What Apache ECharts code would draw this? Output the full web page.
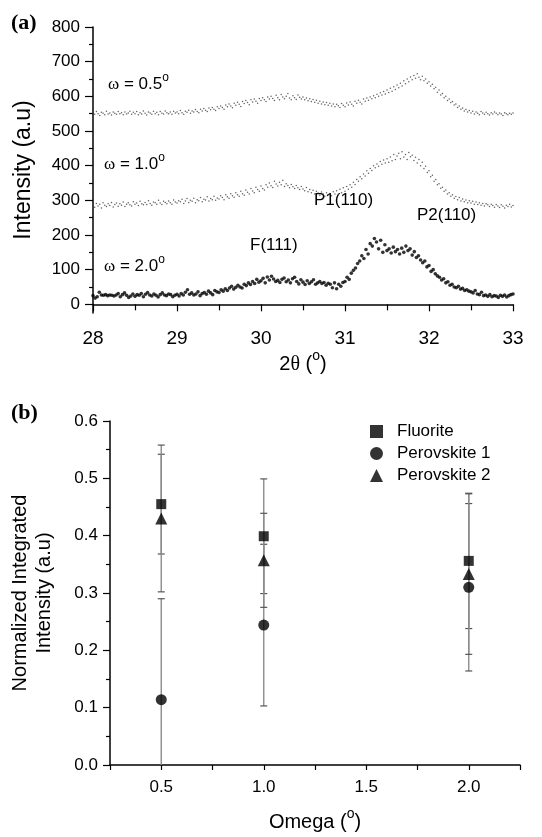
<!DOCTYPE html>
<html><head><meta charset="utf-8">
<script src="https://cdn.jsdelivr.net/npm/echarts@6/dist/echarts.min.js"></script>
<style>html,body{margin:0;padding:0;background:#fff}#c{width:542px;height:837px}</style>
</head><body><div id="c"></div>
<script>
// ---------- Panel (a) data: 2theta sampling and intensities ----------
const twoThetaStart = 28;
const stepW05 = 0.02;
const stepW10 = 0.02;
const stepW20 = 0.025;

const intensityW05 = [
553,548,556,550,545,554,551,547,557,549,552,546,555,551,548,556,550,553,547,555,549,552,557,548,554,
550,556,547,553,549,558,551,546,555,552,548,557,550,554,547,556,551,549,558,553,550,555,548,557,552,
555,550,559,553,548,557,554,560,551,558,555,562,556,553,563,558,565,560,556,566,561,568,563,559,570,
565,572,568,563,575,570,578,572,567,580,574,583,577,571,585,579,588,582,576,590,584,592,586,580,594,
588,596,590,585,598,592,600,594,588,603,596,590,605,598,593,600,608,595,590,602,596,591,604,597,592,
598,590,595,587,593,585,591,583,589,580,586,578,584,576,582,574,580,572,578,570,577,573,568,579,574,
570,581,575,584,577,572,586,580,589,583,578,592,586,595,589,598,593,602,596,606,600,610,604,614,607,
618,611,623,615,628,620,633,625,638,630,645,636,650,642,656,648,660,652,665,655,648,658,645,650,638,
642,630,635,622,626,612,618,604,608,596,600,588,592,582,585,575,578,568,572,563,566,558,562,555,559,
552,557,549,555,551,547,556,552,548,554,550,546,553,549,555,551,547,552,549,545,553,550,547,551,548,552
];

const intensityW10 = [
287,280,291,284,289,278,293,286,282,290,285,294,281,288,292,283,290,286,295,282,289,293,287,284,296,
289,292,285,297,290,287,294,288,299,291,286,295,293,289,300,292,288,297,294,290,298,293,289,301,295,
292,299,296,303,291,298,305,294,300,297,306,293,302,299,308,296,303,301,310,298,305,302,312,300,307,
304,313,308,302,316,310,306,319,313,309,322,316,312,326,319,315,330,323,318,334,327,322,338,331,326,
341,334,330,345,338,350,342,337,355,347,341,352,345,358,340,348,343,336,346,339,334,343,336,331,340,
333,328,337,325,331,322,329,318,326,321,315,324,318,312,322,316,320,313,325,318,328,316,332,322,336,
326,340,332,345,338,352,346,360,355,368,362,376,370,385,378,392,386,400,394,405,398,412,404,416,408,
420,410,425,414,432,418,428,436,420,440,425,432,418,438,426,430,415,424,408,418,400,410,392,398,380,
385,368,372,355,360,345,348,335,338,326,330,318,322,312,316,306,311,302,308,298,304,296,301,293,299,
292,297,289,295,288,293,286,291,284,290,287,282,289,285,280,288,284,279,287,283,278,286,282,289,281,285
];

const intensityW20 = [
25,18,22,35,27,26,28,25,27,26,24,27,31,22,28,33,26,20,24,30,23,28,26,31,22,29,34,27,24,30,26,21,28,33,27,25,30,28,22,26,
29,24,31,27,35,42,29,33,27,30,36,25,31,34,29,38,33,28,40,36,
34,42,38,45,40,47,52,44,49,55,50,47,58,54,62,57,66,60,72,64,
68,75,62,79,70,81,73,66,69,63,72,76,65,70,62,74,78,66,59,71,
64,57,68,60,65,71,58,62,66,60,63,55,61,58,48,62,45,58,52,63,
66,78,72,90,98,105,118,125,140,132,158,145,175,168,190,180,160,185,150,172,
155,160,148,165,152,158,145,162,150,168,155,160,142,152,135,140,128,120,125,108,
112,95,100,88,82,78,70,74,62,65,55,58,50,48,52,44,46,40,42,38,
36,33,40,30,28,35,25,27,23,28,22,25,24,20,26,23,27,21,25,28,30
];

const yTicksA = [0, 100, 200, 300, 400, 500, 600, 700, 800];
const yMinorTicksA = [50, 150, 250, 350, 450, 550, 650, 750];

// ---------- Panel (b) data ----------
const omega = [0.5, 1.0, 2.0];
const fluorite = [0.455, 0.399, 0.356];
const fluoriteErr = [0.087, 0.100, 0.118];
const perovskite1 = [0.114, 0.244, 0.310];
const perovskite1Err = [0.176, 0.141, 0.146];
const perovskite2 = [0.430, 0.357, 0.333];
const perovskite2Err = [0.128, 0.082, 0.140];

// ---------- helpers ----------
function toPoints(start, step, arr) {
  return arr.map((v, i) => [+(start + i * step).toFixed(3), v]);
}
function pairs(xs, ys) { return xs.map((x, i) => [x, ys[i]]); }
function errData(xs, ys, es) { return xs.map((x, i) => [x, ys[i] - es[i], ys[i] + es[i]]); }

const FONT = '"Liberation Sans", Arial, sans-serif';
const SERIF = '"Liberation Serif", "Times New Roman", serif';
const axisLineStyle = { color: '#000', width: 1.5 };
const tickStyle = { color: '#000', width: 1.2 };

function errRender(params, api) {
  const x = api.value(0), lo = api.value(1), hi = api.value(2);
  const pHi = api.coord([x, hi]);
  const pLo = api.coord([x, lo]);
  const w = 3.5;
  return {
    type: 'group',
    children: [
      { type: 'line', shape: { x1: pHi[0], y1: pHi[1], x2: pLo[0], y2: pLo[1] }, style: { stroke: '#8c8c8c', lineWidth: 1.4 } },
      { type: 'line', shape: { x1: pHi[0] - w, y1: pHi[1], x2: pHi[0] + w, y2: pHi[1] }, style: { stroke: '#555', lineWidth: 1.2 } },
      { type: 'line', shape: { x1: pLo[0] - w, y1: pLo[1], x2: pLo[0] + w, y2: pLo[1] }, style: { stroke: '#555', lineWidth: 1.2 } }
    ]
  };
}

const supRich = {
  t: { fontSize: 20, fontFamily: FONT, color: '#000' },
  g: { fontSize: 20, fontFamily: SERIF, color: '#000' },
  sup: { fontSize: 14, fontFamily: FONT, color: '#000', padding: [0, 0, 17, 0] }
};
const omegaRich = {
  w: { fontFamily: SERIF, fontSize: 17 },
  s: { fontSize: 12, fontFamily: FONT, padding: [0, 0, 13, 0] }
};

const chart = echarts.init(document.getElementById('c'), null, { renderer: 'canvas' });

const option = {
  backgroundColor: '#fff',
  animation: false,
  grid: [
    { left: 93, right: 29, top: 27, bottom: 524 },
    { left: 107, right: 22, top: 421, bottom: 72 }
  ],
  xAxis: [
    {
      gridIndex: 0, type: 'value', min: 28, max: 33, interval: 1,
      axisLine: { lineStyle: axisLineStyle },
      axisTick: { length: 7, lineStyle: tickStyle },
      minorTick: { show: true, splitNumber: 2, length: 6, lineStyle: tickStyle },
      splitLine: { show: false }, minorSplitLine: { show: false },
      axisLabel: { fontSize: 19, color: '#000', fontFamily: FONT, margin: 16 },
      name: '{t|2}{g|θ}{t| (}{sup|o}{t|)}', nameLocation: 'middle', nameGap: 30,
      nameTextStyle: { rich: supRich }
    },
    {
      gridIndex: 1, type: 'value', min: 0.25, max: 2.25, interval: 0.25,
      axisLine: { lineStyle: axisLineStyle },
      axisTick: { length: 5, lineStyle: tickStyle },
      splitLine: { show: false },
      axisLabel: {
        fontSize: 17, color: '#000', fontFamily: FONT, margin: 14,
        formatter: v => (Math.abs(v * 2 - Math.round(v * 2)) < 1e-6 ? v.toFixed(1) : '')
      },
      name: '{t|Omega (}{sup|o}{t|)}', nameLocation: 'middle', nameGap: 42,
      nameTextStyle: { rich: supRich }
    }
  ],
  yAxis: [
    {
      gridIndex: 0, type: 'value', min: -25, max: 800,
      axisLine: { show: true, lineStyle: axisLineStyle },
      axisTick: { show: true, length: 8, lineStyle: tickStyle, customValues: yTicksA },
      axisLabel: { fontSize: 17, color: '#000', fontFamily: FONT, margin: 13, customValues: yTicksA },
      splitLine: { show: false },
      name: 'Intensity (a.u)', nameLocation: 'middle', nameGap: 58,
      nameTextStyle: { fontSize: 23, color: '#000', fontFamily: FONT }
    },
    {
      gridIndex: 0, type: 'value', min: -25, max: 800, position: 'left',
      axisLine: { show: false },
      axisTick: { show: true, length: 4, lineStyle: tickStyle, customValues: yMinorTicksA },
      axisLabel: { show: false },
      splitLine: { show: false }
    },
    {
      gridIndex: 1, type: 'value', min: 0, max: 0.6, interval: 0.1,
      axisLine: { show: true, lineStyle: axisLineStyle },
      axisTick: { show: true, length: 7, lineStyle: tickStyle },
      minorTick: { show: true, splitNumber: 2, length: 4, lineStyle: tickStyle },
      splitLine: { show: false }, minorSplitLine: { show: false },
      axisLabel: { fontSize: 17, color: '#000', fontFamily: FONT, margin: 12, formatter: v => v.toFixed(1) },
      name: 'Normalized Integrated\nIntensity (a.u)', nameLocation: 'middle', nameGap: 54,
      nameTextStyle: { fontSize: 20, color: '#000', fontFamily: FONT, lineHeight: 24, align: 'center' }
    }
  ],
  legend: {
    data: ['Fluorite', 'Perovskite 1', 'Perovskite 2'],
    orient: 'vertical', left: 365, top: 418, itemGap: 5,
    itemWidth: 13, itemHeight: 13,
    textStyle: { fontSize: 17, color: '#000', fontFamily: FONT, padding: [0, 0, 0, 9] },
    selectedMode: false
  },
  series: [
    {
      type: 'scatter', xAxisIndex: 0, yAxisIndex: 0, symbol: 'circle', symbolSize: 1.5,
      itemStyle: { color: '#444', opacity: 0.85 },
      data: toPoints(twoThetaStart, stepW05, intensityW05), silent: true
    },
    {
      type: 'scatter', xAxisIndex: 0, yAxisIndex: 0, symbol: 'circle', symbolSize: 1.5,
      itemStyle: { color: '#444', opacity: 0.85 },
      data: toPoints(twoThetaStart, stepW10, intensityW10), silent: true
    },
    {
      type: 'scatter', xAxisIndex: 0, yAxisIndex: 0, symbol: 'circle', symbolSize: 3.6,
      itemStyle: { color: '#000' },
      data: toPoints(twoThetaStart, stepW20, intensityW20), silent: true
    },
    { type: 'custom', xAxisIndex: 1, yAxisIndex: 2, renderItem: errRender, clip: true, z: 1,
      encode: { x: 0, y: [1, 2] }, data: errData(omega, fluorite, fluoriteErr) },
    { type: 'custom', xAxisIndex: 1, yAxisIndex: 2, renderItem: errRender, clip: true, z: 1,
      encode: { x: 0, y: [1, 2] }, data: errData(omega, perovskite1, perovskite1Err) },
    { type: 'custom', xAxisIndex: 1, yAxisIndex: 2, renderItem: errRender, clip: true, z: 1,
      encode: { x: 0, y: [1, 2] }, data: errData(omega, perovskite2, perovskite2Err) },
    { name: 'Fluorite', type: 'scatter', xAxisIndex: 1, yAxisIndex: 2, symbol: 'rect', symbolSize: 10, z: 3,
      itemStyle: { color: '#000' }, data: pairs(omega, fluorite) },
    { name: 'Perovskite 1', type: 'scatter', xAxisIndex: 1, yAxisIndex: 2, symbol: 'circle', symbolSize: 11, z: 3,
      itemStyle: { color: '#000' }, data: pairs(omega, perovskite1) },
    { name: 'Perovskite 2', type: 'scatter', xAxisIndex: 1, yAxisIndex: 2, symbol: 'triangle', symbolSize: 12, z: 3,
      itemStyle: { color: '#000' }, data: pairs(omega, perovskite2) }
  ],
  graphic: [
    { type: 'text', left: 11, top: 12, style: { text: '(a)', fontFamily: SERIF, fontWeight: 'bold', fontSize: 22, fill: '#000' } },
    { type: 'text', left: 11, top: 402, style: { text: '(b)', fontFamily: SERIF, fontWeight: 'bold', fontSize: 22, fill: '#000' } },
    { type: 'text', left: 108, top: 72, style: { text: '{w|ω} = 0.5{s|o}', fontSize: 17, fontFamily: FONT, fill: '#000', rich: omegaRich } },
    { type: 'text', left: 104, top: 152, style: { text: '{w|ω} = 1.0{s|o}', fontSize: 17, fontFamily: FONT, fill: '#000', rich: omegaRich } },
    { type: 'text', left: 104, top: 254, style: { text: '{w|ω} = 2.0{s|o}', fontSize: 17, fontFamily: FONT, fill: '#000', rich: omegaRich } },
    { type: 'text', left: 250, top: 237, style: { text: 'F(111)', fontSize: 17, fontFamily: FONT, fill: '#000' } },
    { type: 'text', left: 314, top: 192, style: { text: 'P1(110)', fontSize: 17, fontFamily: FONT, fill: '#000' } },
    { type: 'text', left: 417, top: 207, style: { text: 'P2(110)', fontSize: 17, fontFamily: FONT, fill: '#000' } }
  ]
};
chart.setOption(option);
</script>
</body></html>
